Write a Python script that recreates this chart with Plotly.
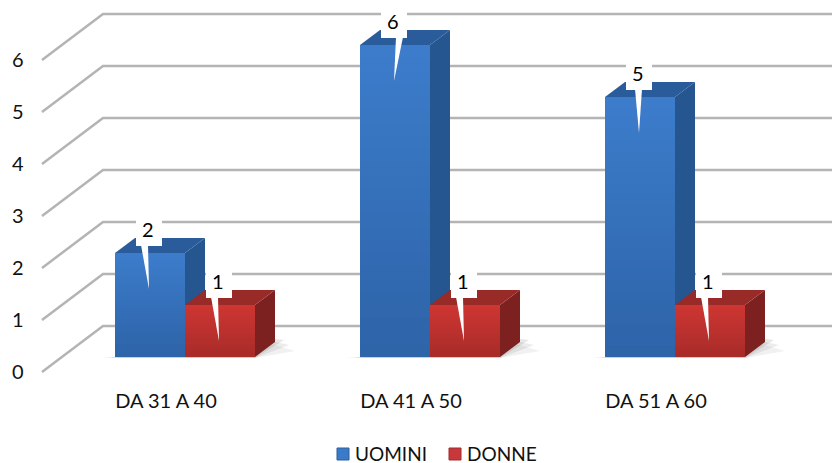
import plotly.graph_objects as go

categories = ["DA 31 A 40", "DA 41 A 50", "DA 51 A 60"]
uomini = [2, 6, 5]
donne = [1, 1, 1]
y_ticks = [0, 1, 2, 3, 4, 5, 6]
legend_names = ["UOMINI", "DONNE"]

W, H = 832, 463
PX_X = 245.0   # px per category
PX_Y = 52.0    # px per unit
X0, Y0 = 166.0, 357.0
dx = lambda p: p / PX_X
dy = lambda p: p / PX_Y

BAR_W, DEPTH_X, DEPTH_Y = 70, 20, 15
OFF_U, OFF_D = -51, 19
FONT = "Lato"
TXT = "#111111"


def lerp(a, b, t):
    return "rgb(%d,%d,%d)" % tuple(round(a[i] + (b[i] - a[i]) * t) for i in range(3))


def poly(xs, ys, color):
    return go.Scatter(x=xs + xs[:1], y=ys + ys[:1], mode="lines", fill="toself", fillcolor=color,
                      line=dict(width=0, color=color), hoverinfo="skip", showlegend=False)


fig = go.Figure()
shapes = []
annots = []

series = [
    ("UOMINI", uomini, OFF_U, "#3a7ac8", (60, 124, 203), (46, 100, 168), "#25568f", "#2a5c9c"),
    ("DONNE", donne, OFF_D, "#c0322e", (205, 54, 50), (168, 44, 42), "#7c2120", "#982a28"),
]

# gridlines on side wall and back wall
for v in y_ticks:
    fig.add_trace(go.Scatter(
        x=[dx(42 - X0), dx(103 - X0), dx(W - X0)],
        y=[v + dy(-15), v + dy(31), v + dy(31)],
        mode="lines", line=dict(color="#b4b4b4", width=2.5), hoverinfo="skip", showlegend=False))

# floor shadows
for i in range(len(categories)):
    l, r = i + dx(OFF_U), i + dx(OFF_D + BAR_W)
    for grow, alpha in ((14, 0.10), (8, 0.14), (3, 0.18)):
        fig.add_trace(poly(
            [l - dx(grow), r, r + dx(DEPTH_X + grow + 6), r + dx(DEPTH_X - 4)],
            [dy(-1), dy(-1), dy(20 - grow), dy(20 - grow / 2)],
            "rgba(120,120,120,%.2f)" % alpha))

# side and top faces
for name, vals, off, col, c_top, c_bot, side, top in series:
    for i, v in enumerate(vals):
        l = i + dx(off)
        r = l + dx(BAR_W)
        ddx, ddy = dx(DEPTH_X), dy(DEPTH_Y)
        fig.add_trace(poly([r, r + ddx, r + ddx, r], [0, ddy, v + ddy, v], side))
        fig.add_trace(poly([l, l + ddx, r + ddx, r], [v, v + ddy, v + ddy, v], top))

# front faces: base bar drawn above the walls by gradient bands
for name, vals, off, col, *_ in series:
    fig.add_trace(go.Bar(x=list(range(len(vals))), y=vals, name=name, width=dx(BAR_W), offset=dx(off),
                         marker=dict(color=col, line=dict(width=0)), hoverinfo="skip", showlegend=False))

N = 24
for name, vals, off, col, c_top, c_bot, side, top in series:
    for i, v in enumerate(vals):
        l = i + dx(off)
        for k in range(N):
            shapes.append(dict(type="rect", xref="x", yref="y", layer="above",
                               x0=l, x1=l + dx(BAR_W),
                               y0=v * k / N, y1=min(v, v * (k + 1) / N + 0.03),
                               fillcolor=lerp(c_bot, c_top, k / (N - 1)), line=dict(width=0)))

# callouts
for name, vals, off, *_ in series:
    for i, v in enumerate(vals):
        cx = i + dx(off + 34)
        bw = dx(13)
        shapes.append(dict(type="rect", xref="x", yref="y", layer="above",
                           x0=cx - bw, x1=cx + bw, y0=v + dy(7), y1=v + dy(35),
                           fillcolor="white", line=dict(width=0)))
        lean = -8 if v in (2, 1) else (2 if v == 6 else -4)
        sx = cx + dx(lean)
        path = "M %f,%f L %f,%f L %f,%f Z" % (sx, v + dy(8), sx + dx(7), v + dy(8), cx, v - dy(36))
        shapes.append(dict(type="path", xref="x", yref="y", layer="above", path=path,
                           fillcolor="white", line=dict(width=0)))
        annots.append(dict(x=cx - dx(1), y=v + dy(24.5), xref="x", yref="y", text=str(v), showarrow=False,
                           font=dict(family=FONT, size=20, color="#000000"),
                           xanchor="center", yanchor="middle"))

# legend
for name, sw_x, txt_x, c_mid, c_edge in (
    (legend_names[0], 337, 356, "#3a7ac8", "#2c5f9f"),
    (legend_names[1], 449, 468, "#c8383a", "#a02c2c"),
):
    shapes.append(dict(type="rect", xref="paper", yref="paper", layer="above",
                       x0=sw_x / W, x1=(sw_x + 12) / W, y0=1 - 460 / H, y1=1 - 448 / H,
                       fillcolor=c_mid, line=dict(width=1, color=c_edge)))
    annots.append(dict(x=txt_x / W, y=0, xref="paper", yref="paper", text=name, showarrow=False,
                       font=dict(family=FONT, size=19, color=TXT), height=16, width=84, borderpad=0,
                       align="left", valign="middle",
                       xanchor="left", yanchor="bottom", xshift=-2, yshift=1))

fig.update_layout(
    width=W, height=H, autosize=False,
    margin=dict(l=0, r=0, t=0, b=0, autoexpand=False),
    paper_bgcolor="white", plot_bgcolor="white",
    barmode="overlay", showlegend=False,
    shapes=shapes, annotations=annots,
    font=dict(family=FONT, size=20, color=TXT),
    xaxis=dict(range=[-X0 / PX_X, (W - X0) / PX_X], tickmode="array",
               tickvals=list(range(len(categories))), ticktext=categories,
               showgrid=False, zeroline=False, showline=False, ticks="", automargin=False,
               anchor="free", position=1 - 387 / H, tickfont=dict(family=FONT, size=20, color=TXT)),
    yaxis=dict(range=[(Y0 - H) / PX_Y, Y0 / PX_Y], visible=False, showgrid=False, zeroline=False),
    yaxis2=dict(range=[(371.5 - H) / PX_Y, 371.5 / PX_Y], overlaying="y", anchor="free", position=23.5 / W,
                tickmode="array", tickvals=y_ticks, showgrid=False, zeroline=False, showline=False,
                automargin=False, ticks="", tickfont=dict(family=FONT, size=20, color=TXT)),
)
fig.add_trace(go.Scatter(x=[0], y=[0], yaxis="y2", mode="markers", marker=dict(opacity=0),
                         hoverinfo="skip", showlegend=False))
fig.write_html("out.html", config=dict(displayModeBar=False),
               post_script="document.body.style.margin='0';document.documentElement.style.overflow='hidden';")
